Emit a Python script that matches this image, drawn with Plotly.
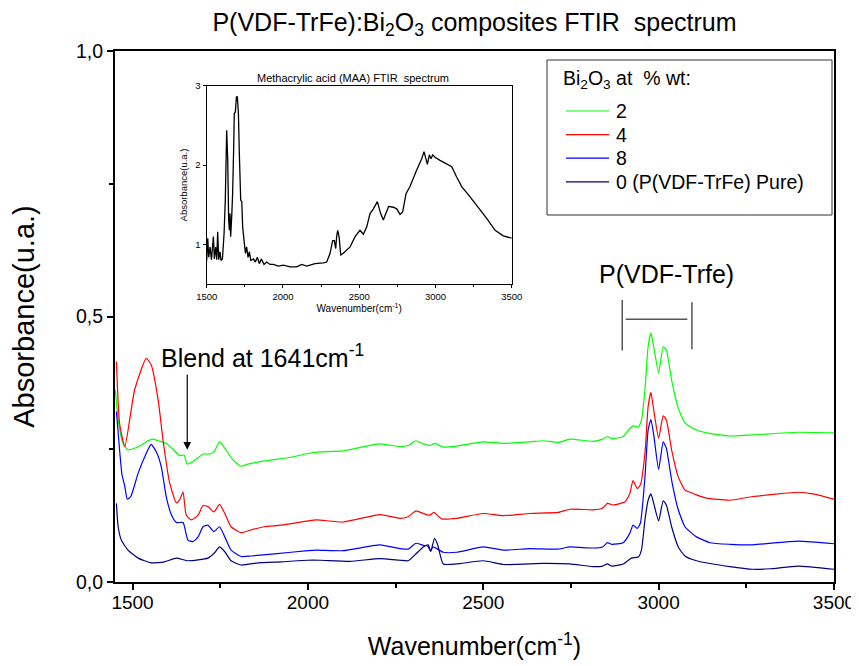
import plotly.graph_objects as go

# ---------------- data ----------------
green_wn = [1451, 1459, 1473, 1487, 1506, 1525, 1544, 1558, 1573, 1596, 1615, 1634, 1647, 1656, 1667,
            1687, 1701, 1720, 1732, 1748, 1763, 1786, 1810, 1829, 1877, 1952, 2000, 2034, 2101, 2205,
            2262, 2286, 2308, 2329, 2348, 2362, 2386, 2424, 2500, 2557, 2633, 2671, 2714, 2747, 2813,
            2840, 2854, 2866, 2899, 2918, 2927, 2942, 2951, 2961, 2970, 2978, 2986, 3000, 3013, 3022,
            3037, 3056, 3075, 3098, 3136, 3203, 3269, 3398, 3500]
green_abs = [0.362, 0.305, 0.261, 0.249, 0.252, 0.258, 0.266, 0.269, 0.266, 0.261, 0.250, 0.238, 0.239, 0.222, 0.225,
             0.234, 0.241, 0.241, 0.245, 0.264, 0.252, 0.230, 0.218, 0.222, 0.228, 0.235, 0.242, 0.245, 0.247, 0.260,
             0.255, 0.257, 0.266, 0.260, 0.257, 0.261, 0.254, 0.256, 0.264, 0.261, 0.264, 0.266, 0.263, 0.269, 0.265,
             0.269, 0.274, 0.270, 0.274, 0.289, 0.294, 0.292, 0.305, 0.362, 0.443, 0.469, 0.443, 0.394, 0.443, 0.437,
             0.380, 0.327, 0.300, 0.289, 0.281, 0.275, 0.277, 0.282, 0.281]

red_wn = [1454, 1463, 1478, 1506, 1539, 1553, 1573, 1587, 1606, 1625, 1634, 1644, 1653, 1667, 1687,
          1701, 1715, 1732, 1748, 1763, 1781, 1810, 1838, 1877, 1924, 2000, 2025, 2101, 2205, 2262,
          2286, 2308, 2329, 2348, 2359, 2381, 2424, 2500, 2557, 2633, 2714, 2747, 2813, 2840, 2854,
          2870, 2904, 2918, 2927, 2939, 2948, 2961, 2970, 2978, 2986, 3000, 3013, 3022, 3037, 3056,
          3075, 3094, 3108, 3136, 3203, 3269, 3398, 3440, 3500]
red_abs = [0.415, 0.299, 0.255, 0.362, 0.421, 0.409, 0.343, 0.267, 0.186, 0.149, 0.154, 0.170, 0.126, 0.117, 0.126,
           0.144, 0.142, 0.132, 0.146, 0.129, 0.104, 0.093, 0.098, 0.104, 0.107, 0.115, 0.117, 0.113, 0.127, 0.120,
           0.123, 0.134, 0.129, 0.126, 0.131, 0.119, 0.120, 0.129, 0.125, 0.129, 0.131, 0.137, 0.136, 0.139, 0.148,
           0.145, 0.151, 0.167, 0.191, 0.176, 0.183, 0.242, 0.330, 0.357, 0.324, 0.271, 0.313, 0.305, 0.249, 0.198,
           0.173, 0.168, 0.164, 0.158, 0.154, 0.161, 0.169, 0.166, 0.156]

blue_wn = [1454, 1463, 1470, 1478, 1485, 1495, 1516, 1539, 1553, 1568, 1582, 1596, 1611, 1625, 1644,
           1658, 1672, 1687, 1701, 1715, 1732, 1748, 1763, 1781, 1810, 1838, 1905, 2000, 2025, 2101,
           2205, 2262, 2286, 2308, 2329, 2341, 2350, 2357, 2386, 2424, 2500, 2557, 2633, 2714, 2747,
           2813, 2840, 2854, 2866, 2899, 2918, 2927, 2939, 2948, 2961, 2970, 2978, 2986, 3000, 3013,
           3022, 3037, 3056, 3075, 3094, 3108, 3146, 3203, 3269, 3398, 3500]
blue_abs = [0.321, 0.249, 0.202, 0.180, 0.156, 0.161, 0.205, 0.242, 0.259, 0.245, 0.217, 0.161, 0.126, 0.112, 0.112,
            0.079, 0.076, 0.085, 0.104, 0.107, 0.095, 0.104, 0.085, 0.060, 0.048, 0.049, 0.053, 0.059, 0.060, 0.059,
            0.070, 0.063, 0.062, 0.073, 0.069, 0.068, 0.059, 0.066, 0.056, 0.056, 0.066, 0.060, 0.063, 0.062, 0.066,
            0.064, 0.066, 0.074, 0.071, 0.074, 0.092, 0.107, 0.101, 0.111, 0.198, 0.286, 0.306, 0.277, 0.212, 0.264,
            0.252, 0.192, 0.136, 0.104, 0.092, 0.085, 0.074, 0.071, 0.070, 0.077, 0.072]

navy_wn = [1454, 1459, 1468, 1487, 1516, 1553, 1591, 1625, 1658, 1715, 1734, 1748, 1763, 1781, 1810,
           1858, 1924, 2000, 2034, 2120, 2205, 2262, 2286, 2305, 2329, 2343, 2350, 2361, 2370, 2386,
           2424, 2500, 2557, 2671, 2747, 2813, 2840, 2854, 2866, 2899, 2922, 2942, 2951, 2961, 2970,
           2978, 2986, 3000, 3013, 3022, 3037, 3056, 3075, 3108, 3203, 3269, 3318, 3398, 3500]
navy_abs = [0.148, 0.104, 0.079, 0.060, 0.045, 0.036, 0.038, 0.045, 0.040, 0.045, 0.055, 0.066, 0.057, 0.040, 0.032,
            0.036, 0.038, 0.041, 0.041, 0.039, 0.044, 0.041, 0.040, 0.051, 0.066, 0.070, 0.057, 0.082, 0.070, 0.034,
            0.034, 0.040, 0.033, 0.035, 0.034, 0.029, 0.030, 0.034, 0.030, 0.034, 0.045, 0.047, 0.060, 0.117, 0.154,
            0.166, 0.148, 0.115, 0.153, 0.145, 0.104, 0.066, 0.049, 0.040, 0.029, 0.024, 0.025, 0.030, 0.024]

maa_wn = [1500, 1507, 1513, 1522, 1531, 1544, 1550, 1559, 1566, 1572, 1579, 1587, 1594, 1603, 1614,
          1622, 1631, 1638, 1644, 1649, 1653, 1657, 1664, 1670, 1677, 1681, 1688, 1695, 1701, 1708,
          1714, 1723, 1730, 1736, 1745, 1754, 1762, 1771, 1780, 1789, 1806, 1819, 1832, 1845, 1858,
          1876, 1893, 1915, 1937, 1970, 2003, 2046, 2090, 2123, 2156, 2210, 2265, 2287, 2309, 2326,
          2337, 2346, 2352, 2359, 2368, 2379, 2396, 2440, 2473, 2505, 2527, 2549, 2571, 2593, 2619,
          2641, 2658, 2676, 2693, 2724, 2746, 2768, 2785, 2807, 2833, 2877, 2910, 2925, 2934, 2947,
          2960, 2971, 2982, 2997, 3030, 3063, 3107, 3139, 3172, 3227, 3281, 3336, 3391, 3445, 3500]
maa_abs = [0.80, 1.08, 0.84, 0.97, 0.81, 1.10, 0.82, 0.97, 0.81, 1.16, 0.81, 0.91, 0.80, 0.82, 1.14,
           1.56, 2.44, 2.06, 1.31, 1.18, 1.39, 1.10, 1.35, 1.64, 2.23, 2.65, 2.67, 2.86, 2.86, 2.65,
           2.15, 1.56, 1.54, 1.22, 1.05, 0.89, 0.97, 0.84, 0.91, 0.80, 0.82, 0.78, 0.84, 0.76, 0.82,
           0.75, 0.78, 0.75, 0.75, 0.73, 0.74, 0.72, 0.72, 0.75, 0.73, 0.76, 0.77, 0.78, 0.89, 1.05,
           1.05, 0.95, 1.10, 1.18, 1.10, 0.87, 0.89, 0.97, 1.10, 1.18, 1.13, 1.22, 1.39, 1.45, 1.54,
           1.39, 1.31, 1.39, 1.48, 1.47, 1.45, 1.38, 1.41, 1.64, 1.73, 1.94, 2.08, 2.17, 2.10, 2.01,
           2.13, 2.08, 2.13, 2.10, 2.06, 2.03, 1.98, 1.85, 1.73, 1.60, 1.47, 1.33, 1.18, 1.11, 1.08]

series_names = ["2", "4", "8", "0 (P(VDF-TrFe) Pure)"]
series_colors = ["#00ff00", "#ff0000", "#0000ff", "#000080"]
legend_heading = "Bi<sub>2</sub>O<sub>3</sub> at  % wt:"

x_ticks = [1500, 2000, 2500, 3000, 3500]
y_ticks = [0.0, 0.5, 1.0]
y_ticktext = ["0,0", "0,5", "1,0"]
inset_y_ticks = [1, 2, 3]

FONT = "Arial, Liberation Sans, Helvetica, sans-serif"

# plot area (in visible pixels): left 115, right 834, top 51, bottom 582;
# the page body adds an 8 px offset, compensated in the margins.
PL, PR, PT, PB = 115, 834, 51, 582


def px(xp):
    return (xp - PL) / (PR - PL)


def py(yp):
    return (PB - yp) / (PB - PT)


fig = go.Figure()
for wn, ab, name, col in zip([green_wn, red_wn, blue_wn, navy_wn],
                             [green_abs, red_abs, blue_abs, navy_abs],
                             series_names, series_colors):
    fig.add_trace(go.Scatter(x=wn, y=ab, mode="lines", name=name, showlegend=False,
                             line=dict(color=col, width=1.2, shape="spline", smoothing=0.5)))

fig.add_trace(go.Scatter(x=maa_wn, y=maa_abs, mode="lines", showlegend=False,
                         line=dict(color="black", width=1.3), xaxis="x2", yaxis="y2"))

axis_common = dict(showgrid=False, zeroline=False, showline=True, linecolor="black",
                   mirror=True, ticks="outside", tickcolor="black", automargin=False)

fig.update_layout(
    width=859, height=666,
    margin=dict(l=PL - 8, r=859 - PR + 8, t=PT - 8, b=666 - PB + 8, autoexpand=False),
    paper_bgcolor="white", plot_bgcolor="white",
    font=dict(family=FONT, color="black"),
    title=dict(text="P(VDF-TrFe):Bi<sub>2</sub>O<sub>3</sub> composites FTIR  spectrum",
               x=0.5, xref="paper", xanchor="center", y=1 - 14 / 666, yref="container",
               yanchor="middle", font=dict(size=25, family=FONT), automargin=False),
    xaxis=dict(range=[1450, 3500], tickvals=x_ticks, linewidth=2, ticklen=6, tickwidth=1.5,
               tickfont=dict(size=19), ticklabelstandoff=-4,
               minor=dict(dtick=250, ticks="outside", ticklen=4, tickcolor="black"),
               title=dict(text="Wavenumber(cm<sup>-1</sup>)", font=dict(size=25), standoff=26),
               **axis_common),
    yaxis=dict(range=[0, 1], tickvals=y_ticks, ticktext=y_ticktext, linewidth=2, ticklen=6, tickwidth=1.5,
               tickfont=dict(size=19.5),
               minor=dict(dtick=0.25, ticks="outside", ticklen=4, tickcolor="black"),
               title=dict(text="Absorbance(u.a.)", font=dict(size=29), standoff=40),
               **axis_common),
    xaxis2=dict(domain=[px(206.7), px(511.7)], anchor="y2", range=[1500, 3500], tickvals=x_ticks,
                linewidth=1.3, ticklen=3, tickfont=dict(size=9.5),
                minor=dict(dtick=250, ticks="outside", ticklen=2, tickcolor="black"),
                title=dict(text="Wavenumber(cm<sup>-1</sup>)", font=dict(size=10), standoff=4),
                **axis_common),
    yaxis2=dict(domain=[py(284.3), py(85.7)], anchor="x2", range=[0.5, 3], tickvals=inset_y_ticks,
                linewidth=1.3, ticklen=3, tickfont=dict(size=9.5),
                title=dict(text="Absorbance(u.a.)", font=dict(size=9.5), standoff=6),
                **axis_common),
    showlegend=False,
)

# legend box drawn by hand (frame, heading, line samples and labels)
fig.add_shape(type="rect", xref="paper", yref="paper", x0=px(547), x1=px(832), y0=py(215), y1=py(60),
              line=dict(color="#333333", width=1), fillcolor="rgba(0,0,0,0)")
fig.add_annotation(text=legend_heading, x=px(561), y=py(79), xref="paper", yref="paper",
                   showarrow=False, font=dict(size=19.5), xanchor="left", yanchor="middle")
for i, (name, col) in enumerate(zip(series_names, series_colors)):
    yy = py(111 + 23.6 * i)
    fig.add_shape(type="line", xref="paper", yref="paper", x0=px(566), x1=px(609), y0=yy, y1=yy,
                  line=dict(color=col, width=1.2))
    fig.add_annotation(text=name, x=px(614), y=yy, xref="paper", yref="paper", showarrow=False,
                       font=dict(size=19.5), xanchor="left", yanchor="middle")

# bracket over the P(VDF-TrFe) doublet
bracket_left = [2896, 0.436, 0.531]
bracket_right = [3095, 0.438, 0.527]
bracket_bar = [2906, 3082, 0.495]
for bx, b0, b1 in [bracket_left, bracket_right]:
    fig.add_shape(type="line", xref="x", yref="y", x0=bx, x1=bx, y0=b0, y1=b1,
                  line=dict(color="black", width=1))
fig.add_shape(type="line", xref="x", yref="y", x0=bracket_bar[0], x1=bracket_bar[1],
              y0=bracket_bar[2], y1=bracket_bar[2], line=dict(color="black", width=1))

fig.add_annotation(text="P(VDF-Trfe)", x=3023, y=0.580, xref="x", yref="y", showarrow=False,
                   font=dict(size=25), xanchor="center", yanchor="middle")
fig.add_annotation(text="Blend at 1641cm<sup>-1</sup>", x=1575, y=0.426, xref="x", yref="y",
                   showarrow=False, font=dict(size=25), xanchor="left", yanchor="middle")
fig.add_annotation(text="", x=1656, y=0.249, ax=1656, ay=0.393, xref="x", yref="y",
                   axref="x", ayref="y", showarrow=True, arrowhead=2, arrowsize=1.3,
                   arrowwidth=1.2, arrowcolor="black")
fig.add_annotation(text="Methacrylic acid (MAA) FTIR  spectrum", x=px(353), y=py(78.3),
                   xref="paper", yref="paper", showarrow=False, font=dict(size=11),
                   xanchor="center", yanchor="middle")

fig.write_html("out.html")
